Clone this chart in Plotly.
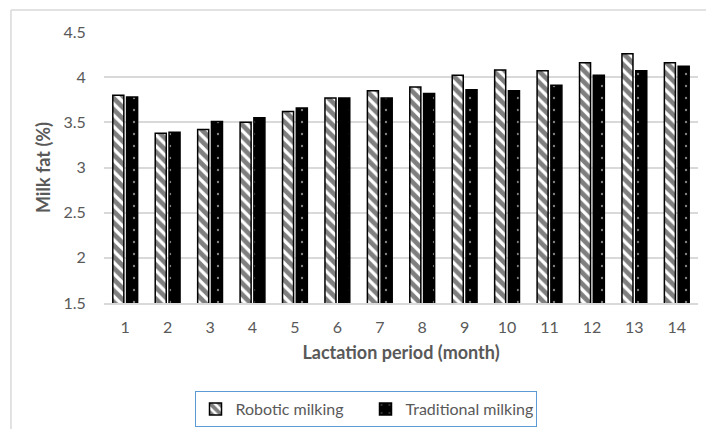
import plotly.graph_objects as go

months = [str(i) for i in range(1, 15)]
robotic = [3.80, 3.38, 3.42, 3.50, 3.62, 3.77, 3.85, 3.89, 4.02, 4.08, 4.07, 4.16, 4.26, 4.16]
traditional = [3.78, 3.39, 3.51, 3.55, 3.66, 3.77, 3.77, 3.82, 3.86, 3.85, 3.91, 4.02, 4.07, 4.12]
y_ticks = [1.5, 2, 2.5, 3, 3.5, 4, 4.5]
y_tick_text = ["1.5", "2", "2.5", "3", "3.5", "4", "4.5"]

FONT = "Lato, Open Sans, sans-serif"
GRAY = "#595959"

fig = go.Figure()
fig.add_trace(go.Bar(
    x=months, y=robotic, name="Robotic milking",
    marker=dict(color="white", line=dict(color="black", width=1.5),
                pattern=dict(shape="\\", fgcolor="black", bgcolor="white", size=8, solidity=0.6)),
))
fig.add_trace(go.Bar(
    x=months, y=traditional, name="Traditional milking",
    marker=dict(color="black", line=dict(color="black", width=1.5),
                pattern=dict(shape=".", fgcolor="white", bgcolor="black", size=12, solidity=0.03)),
))

fig.update_layout(
    width=706, height=429,
    margin=dict(l=104, r=8, t=32, b=126),
    paper_bgcolor="white", plot_bgcolor="white",
    barmode="group", bargap=0.35, bargroupgap=0.2,
    font=dict(family=FONT, color=GRAY, size=15),
    showlegend=True,
    legend=dict(orientation="h", xref="container", x=365.5 / 706, xanchor="center",
                yref="container", y=1 - 391 / 429, yanchor="top",
                bordercolor="#5B9BD5", borderwidth=1, bgcolor="white",
                font=dict(family=FONT, size=16, color=GRAY),
                entrywidth=125, itemwidth=30, tracegroupgap=0),
    xaxis=dict(title=dict(text="<b>Lactation period (month)</b>", font=dict(size=18, color=GRAY), standoff=11),
               showgrid=False, showline=True, linecolor="#d9d9d9", linewidth=1.5, automargin=False,
               ticks="outside", ticklen=9, tickcolor="rgba(0,0,0,0)",
               tickfont=dict(size=16, color=GRAY)),
    yaxis=dict(title=dict(text="<b>Milk fat (%)</b>", font=dict(size=18, color=GRAY), standoff=8),
               range=[1.5, 4.5], tickvals=y_ticks, ticktext=y_tick_text, automargin=False,
               showgrid=True, gridcolor="#d9d9d9", gridwidth=1.5, zeroline=False,
               ticks="outside", ticklen=14, tickcolor="rgba(0,0,0,0)",
               tickfont=dict(size=16, color=GRAY)),
)

# outer chart-area border (left and top edges visible)
fig.add_shape(type="line", xref="paper", yref="paper", x0=-0.1566, x1=-0.1566, y0=-0.5, y1=1.0812,
              line=dict(color="#d9d9d9", width=1.5))
fig.add_shape(type="line", xref="paper", yref="paper", x0=-0.1566, x1=1.02, y0=1.0812, y1=1.0812,
              line=dict(color="#d9d9d9", width=1.5))

fig.write_html("out.html")
